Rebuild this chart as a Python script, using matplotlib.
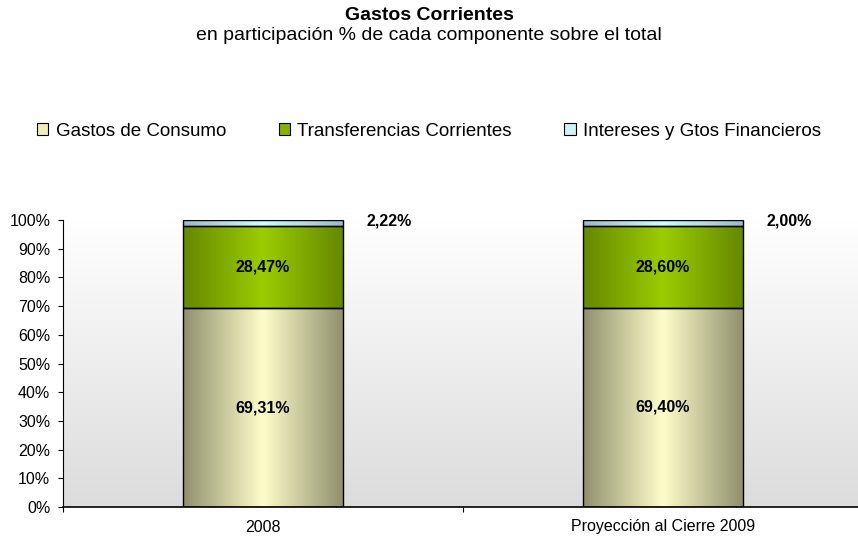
import numpy as np
import matplotlib
matplotlib.use("Agg")
import matplotlib.pyplot as plt
from matplotlib.colors import LinearSegmentedColormap
from matplotlib.patches import Patch

plt.rcParams['font.family'] = ['Liberation Sans', 'DejaVu Sans']

categorias = ["2008", "Proyección al Cierre 2009"]
series = ["Gastos de Consumo", "Transferencias Corrientes",
          "Intereses y Gtos Financieros"]
consumo = [69.31, 69.40]
transferencias = [28.47, 28.60]
intereses = [2.22, 2.00]
ticks_y = [0, 10, 20, 30, 40, 50, 60, 70, 80, 90, 100]

# colour at bar edge, colour at bar centre, legend swatch
estilos = [("#90906f", "#fdfdc9", "#eeeeb8"),
           ("#668800", "#9acc00", "#88b000"),
           ("#9bbcbf", "#cdffff", "#ccf2f2")]


def fmt(v):
    return ("%.2f%%" % v).replace(".", ",")


fig = plt.figure(figsize=(8.58, 5.40), dpi=100)
ax = fig.add_axes([63 / 858, 1 - 507 / 540, 795 / 858, 287 / 540])
ax.set_xlim(-0.5, 1.4875)
ax.set_ylim(0, 100)

# plot area background
fondo = LinearSegmentedColormap.from_list("fondo", ["#dcdcdc", "#ffffff"])
ax.imshow(np.linspace(0, 1, 256).reshape(-1, 1), cmap=fondo, origin="lower",
          extent=[0, 1, 0, 1], transform=ax.transAxes, aspect="auto",
          zorder=0, interpolation="bilinear")

x = np.arange(len(categorias))
base = np.zeros(len(categorias))
grad = np.abs(np.linspace(-1, 1, 200)).reshape(1, -1)
for vals, (c_borde, c_centro, _) in zip([consumo, transferencias, intereses], estilos):
    cmap = LinearSegmentedColormap.from_list("g", [c_centro, c_borde])
    barras = ax.bar(x, vals, 0.4, bottom=base, facecolor="none",
                    edgecolor="black", linewidth=1.0, zorder=3)
    for b in barras:
        x0, y0 = b.get_x(), b.get_y()
        ax.imshow(grad, cmap=cmap, extent=[x0, x0 + b.get_width(), y0, y0 + b.get_height()],
                  aspect="auto", zorder=2, interpolation="bilinear")
    base = base + np.array(vals)

for i in range(len(categorias)):
    ax.text(x[i], consumo[i] / 2, fmt(consumo[i]), ha="center", va="center",
            fontsize=11.5, fontweight="bold", zorder=4)
    ax.text(x[i], consumo[i] + transferencias[i] / 2, fmt(transferencias[i]),
            ha="center", va="center", fontsize=11.5, fontweight="bold", zorder=4)
    ax.text(x[i] + 0.316, 99.8, fmt(intereses[i]), ha="center", va="center",
            fontsize=11.5, fontweight="bold", zorder=4)

ax.set_xlim(-0.5, 1.4875)
ax.set_ylim(0, 100)

ax.set_yticks(ticks_y)
ax.set_yticklabels(["%d%%" % t for t in ticks_y])
ax.tick_params(axis="y", direction="out", length=3.6, width=0.8, pad=5.5,
               labelsize=11.5, colors="black")
ax.set_xticks(x)
ax.set_xticklabels(categorias)
ax.set_xticks([-0.5, 0.5], minor=True)
ax.tick_params(axis="x", which="major", length=0, pad=9, labelsize=11.5)
ax.tick_params(axis="x", which="minor", direction="out", length=3.6, width=0.8)
for s in ["top", "right"]:
    ax.spines[s].set_visible(False)
ax.spines["left"].set_linewidth(0.8)
ax.spines["bottom"].set_linewidth(1.2)
ax.spines["left"].set_zorder(5)
ax.spines["bottom"].set_zorder(5)

fig.text(0.5, 1 - 15 / 540, "Gastos Corrientes", ha="center", va="center",
         fontsize=14, fontweight="bold")
fig.text(0.5, 1 - 35 / 540, "en participación % de cada componente sobre el total",
         ha="center", va="center", fontsize=14)

handles = [Patch(facecolor=e[2], edgecolor="black", linewidth=0.8) for e in estilos]
fig.legend(handles, series, loc="center", bbox_to_anchor=(0.5, 1 - 131 / 540),
           ncol=3, frameon=False, fontsize=13.5, handlelength=0.6,
           handleheight=0.6, handletextpad=0.4, columnspacing=2.8,
           borderpad=0)

fig.savefig("out.png", dpi=100)
